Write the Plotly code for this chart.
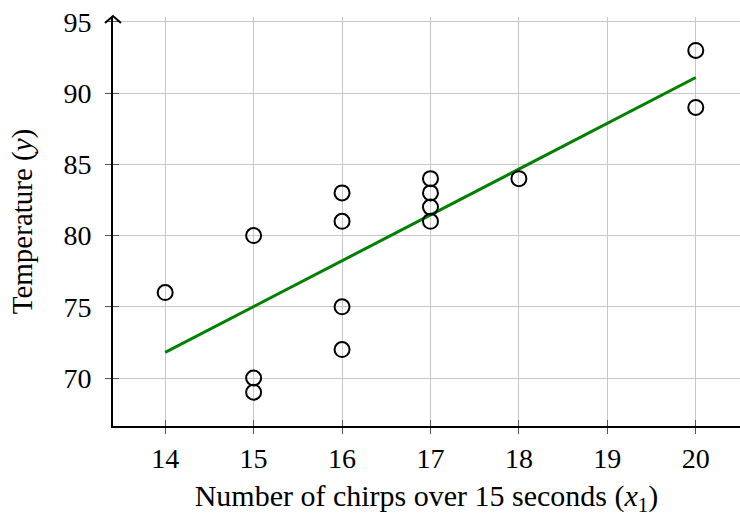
import plotly.graph_objects as go

chirps = [14, 15, 15, 15, 16, 16, 16, 16, 17, 17, 17, 17, 18, 20, 20]
temps = [76, 80, 70, 69, 83, 81, 75, 72, 84, 83, 82, 81, 84, 93, 89]
fit_x = [14, 20]
fit_y = [71.8, 91.1]
x_ticks = [14, 15, 16, 17, 18, 19, 20]
y_ticks = [70, 75, 80, 85, 90, 95]

FONT = "Liberation Serif"
xr = [13.41, 20.5]
yr = [66.63, 95.35]

fig = go.Figure()
fig.add_trace(go.Scatter(x=fit_x, y=fit_y, mode="lines",
                         line=dict(color="#008000", width=3), showlegend=False))
fig.add_trace(go.Scatter(x=chirps, y=temps, mode="markers",
                         marker=dict(symbol="circle-open", size=15, color="black",
                                     line=dict(width=2, color="black")),
                         showlegend=False))

fig.update_layout(
    width=740, height=517,
    margin=dict(l=113, r=0, t=17, b=91),
    paper_bgcolor="white", plot_bgcolor="white",
    font=dict(family=FONT, size=20, color="black"),
    xaxis=dict(range=xr, tickvals=x_ticks, showgrid=True, gridcolor="#c8c8c8", gridwidth=1,
               zeroline=False, showline=True, linecolor="black", linewidth=2,
               ticks="outside", ticklen=6, tickcolor="#555", tickwidth=1,
               ticklabelstandoff=0,
               tickfont=dict(family=FONT, size=28),
               title=dict(text="Number of chirps over 15 seconds (<i>x</i><sub>1</sub>)",
                          font=dict(family=FONT, size=30), standoff=16)),
    yaxis=dict(range=yr, tickvals=y_ticks, showgrid=True, gridcolor="#c8c8c8", gridwidth=1,
               zeroline=False, showline=True, linecolor="black", linewidth=2,
               ticks="outside", ticklen=6, tickcolor="#555", tickwidth=1,
               ticklabelstandoff=8,
               tickfont=dict(family=FONT, size=28),
               title=dict(text="Temperature (<i>y</i>)", font=dict(family=FONT, size=29),
                          standoff=22)),
    xaxis2=dict(range=xr, tickvals=x_ticks, overlaying="x", matches="x", showgrid=False,
                zeroline=False, showticklabels=False, ticks="inside", ticklen=6,
                tickcolor="#555", tickwidth=1, side="bottom", showline=False),
    yaxis2=dict(range=yr, tickvals=y_ticks, overlaying="y", matches="y", showgrid=False,
                zeroline=False, showticklabels=False, ticks="inside", ticklen=6,
                tickcolor="#555", tickwidth=1, side="left", showline=False),
)
fig.add_trace(go.Scatter(x=[None], y=[None], xaxis="x2", yaxis="y2", showlegend=False,
                         hoverinfo="skip"))

fig.add_shape(type="path", xref="paper", yref="paper", xsizemode="pixel", ysizemode="pixel",
              xanchor=0, yanchor=1, path="M -8,-6 L 0,1 L 8,-6",
              line=dict(color="black", width=2))

fig.write_html("out.html")
